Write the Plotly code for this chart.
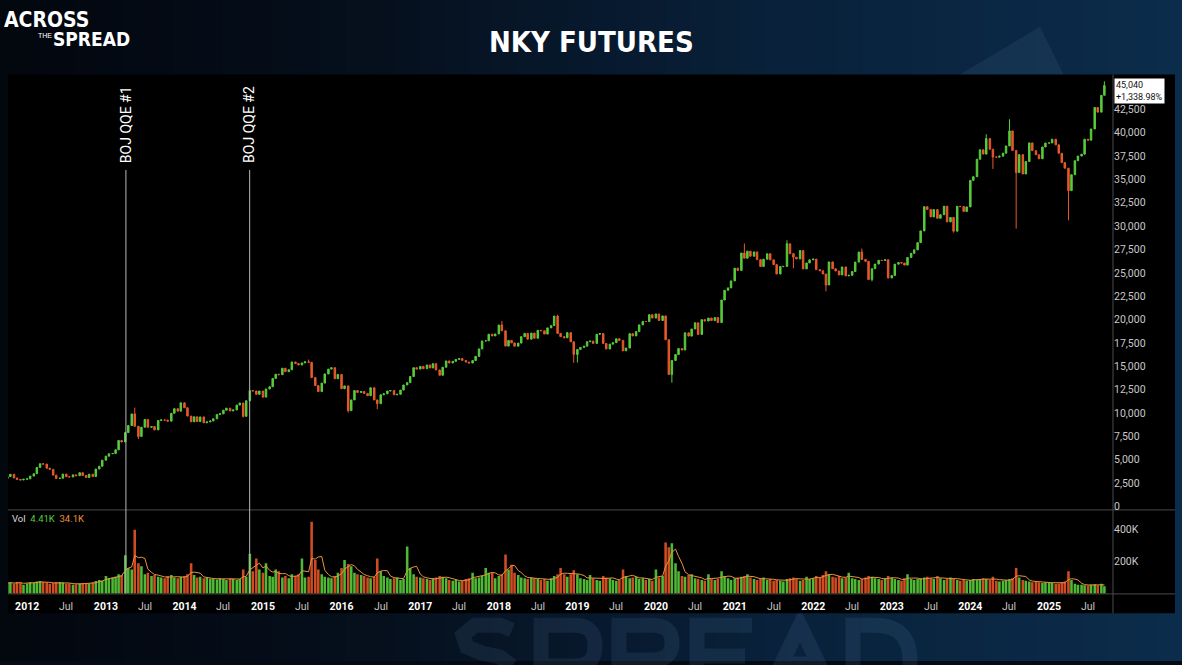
import numpy as np
import pandas as pd
import plotly.graph_objects as go

W, H = 1182, 665

# ---------------- data (semi-monthly candles) ----------------
dates = pd.date_range("2011-10-01", periods=336, freq="SMS")

first_open = 3000
close_2011 = [3200, 3440, 3050, 2880, 2830, 2910]
close_2012 = [2950, 3250, 3500, 4170, 4570, 4530, 4090, 3970, 3350, 2990, 3020, 3460,
              3180, 3150, 3380, 3290, 3610, 3320, 3100, 3450, 3200, 4000, 4300, 4950]
close_2013 = [5380, 5640, 5670, 6060, 7060, 6900, 7900, 8660, 9900, 8580, 7490, 8480,
              9310, 8470, 8550, 8190, 9200, 9260, 9240, 9130, 9970, 10460, 10200, 11090]
close_2014 = [10560, 9670, 9060, 9590, 9080, 9580, 8950, 9050, 9150, 9380, 9850, 9910,
              10300, 10520, 10220, 10330, 10850, 11070, 9640, 11310, 12390, 12360, 12000, 12350]
close_2015 = [11700, 12570, 12810, 13700, 14150, 14100, 14790, 14420, 14630, 15460, 15290, 15140,
              15360, 15480, 15420, 13790, 12930, 12290, 13200, 14180, 14700, 14850, 13670, 14130]
close_2016 = [12600, 12900, 10250, 11400, 12400, 12200, 12300, 12100, 11850, 12700, 11400, 11000,
              11950, 12050, 12350, 12400, 11950, 12000, 12450, 13000, 13250, 13900, 14850, 14700]
close_2017 = [14990, 14740, 15140, 14820, 15280, 14610, 14040, 14900, 15570, 15350, 15530, 15730,
              15820, 15630, 15450, 15350, 15610, 16060, 16860, 17710, 17730, 18430, 18250, 18460]
close_2018 = [19415, 18800, 17160, 17770, 17500, 17150, 17480, 18170, 18520, 17900, 18550, 18000,
              18850, 18800, 18450, 19110, 19350, 20370, 18520, 18170, 18050, 18600, 17620, 16265]
close_2019 = [16800, 17020, 17150, 17630, 17700, 17450, 18420, 18510, 17440, 16850, 17370, 17525,
              17940, 17770, 16655, 16950, 18490, 18250, 18710, 19430, 19800, 19790, 20520, 20160]
close_2020 = [20600, 19900, 20390, 17840, 14130, 15620, 16250, 16890, 16740, 18580, 18230, 18990,
              19650, 18410, 19990, 19840, 20160, 19890, 20210, 19680, 22090, 23130, 23390, 24140]
close_2021 = [25500, 25260, 27120, 26570, 27320, 26780, 27240, 26410, 25680, 26460, 27040, 26390,
              25880, 24880, 25670, 25690, 28110, 27050, 26670, 26490, 27380, 25420, 26060, 26390]
close_2022 = [26470, 25350, 25220, 24880, 23700, 26170, 25440, 25200, 24780, 25630, 24680, 24740,
              25140, 26150, 27220, 26440, 26230, 24290, 25440, 25940, 26340, 26320, 26400, 24450]
close_2023 = [24720, 25930, 26100, 26050, 25830, 26640, 27090, 27460, 28230, 29490, 32080, 31790,
              30990, 31770, 30840, 31220, 32130, 30460, 30920, 29460, 32120, 32090, 31570, 32060]
close_2024 = [34900, 35290, 37160, 38170, 37710, 39370, 38230, 37400, 37380, 37490, 37810, 38580,
              40190, 38100, 35730, 37650, 35580, 36920, 38910, 38080, 37640, 37210, 38470, 38890]
close_2025 = [38900, 39300, 38700, 37800, 36800, 36200, 33800, 35500, 37000, 37500, 37700, 39300,
              39200, 40400, 42700, 42200, 44000, 45040]

wick_high = {"2012-03-15": 4630, "2013-05-15": 10580, "2015-08-01": 15720, "2018-01-15": 19840,
             "2018-10-01": 20510, "2021-02-15": 28140, "2021-09-01": 28490, "2022-08-15": 27600,
             "2024-03-15": 39840, "2024-07-01": 41440, "2025-09-15": 45500}
wick_low = {"2013-06-01": 7210, "2014-10-01": 9520, "2015-01-01": 11650, "2016-02-01": 10050,
            "2016-06-15": 10400, "2018-12-15": 15370, "2019-01-01": 15400, "2020-03-15": 13240,
            "2021-10-01": 25480, "2022-03-01": 23030, "2022-10-01": 24090, "2023-10-15": 29300,
            "2024-04-15": 36120, "2024-08-01": 29730, "2025-04-01": 30620}

# volume in thousands
vol_2011 = [65, 70, 60, 72, 68, 55]
vol_2012 = [62, 70, 66, 75, 78, 72, 68, 60, 65, 70, 72, 68, 60, 62, 55, 58, 64, 66, 60, 62, 68, 78, 85, 80]
vol_2013 = [110, 95, 100, 105, 120, 115, 240, 160, 150, 400, 190, 170, 120, 130, 110, 115, 105, 100, 95, 110, 115, 100, 95, 105]
vol_2014 = [110, 120, 190, 115, 100, 105, 95, 98, 92, 90, 88, 95, 90, 85, 95, 92, 85, 90, 150, 105, 250, 140, 220, 150]
vol_2015 = [130, 190, 110, 105, 150, 140, 100, 110, 95, 120, 110, 120, 220, 100, 105, 450, 210, 150, 120, 105, 100, 95, 110, 130]
vol_2016 = [160, 210, 185, 170, 130, 120, 115, 110, 100, 95, 105, 220, 140, 110, 100, 90, 95, 100, 85, 90, 295, 160, 120, 105]
vol_2017 = [100, 95, 90, 85, 95, 100, 110, 105, 95, 85, 80, 85, 75, 80, 90, 95, 130, 95, 100, 110, 160, 130, 130, 95]
vol_2018 = [110, 120, 245, 150, 180, 130, 115, 100, 95, 90, 100, 95, 90, 85, 90, 80, 95, 110, 120, 160, 120, 105, 120, 145]
vol_2019 = [120, 95, 90, 85, 115, 95, 85, 80, 110, 100, 95, 85, 80, 85, 150, 110, 95, 100, 105, 90, 95, 85, 90, 80]
vol_2020 = [150, 100, 110, 320, 290, 315, 190, 140, 110, 105, 115, 120, 95, 90, 85, 80, 120, 90, 85, 90, 140, 110, 95, 85]
vol_2021 = [95, 100, 105, 110, 120, 100, 90, 85, 95, 100, 85, 90, 80, 85, 80, 75, 90, 95, 100, 90, 80, 85, 105, 90]
vol_2022 = [95, 110, 100, 115, 140, 120, 105, 100, 110, 95, 100, 130, 95, 90, 85, 90, 100, 110, 105, 95, 90, 85, 95, 110]
vol_2023 = [100, 90, 85, 80, 95, 120, 90, 85, 90, 95, 100, 105, 95, 90, 110, 95, 85, 90, 100, 95, 85, 80, 85, 80]
vol_2024 = [85, 90, 85, 90, 95, 90, 85, 105, 80, 75, 80, 85, 90, 95, 160, 100, 85, 80, 75, 70, 75, 70, 65, 70]
vol_2025 = [70, 65, 60, 62, 70, 75, 140, 85, 60, 55, 55, 52, 50, 55, 58, 52, 60, 45]

events = ["2013-04-04", "2014-10-31"]
event_labels = ["BOJ QQE #1", "BOJ QQE #2"]

price_ticks = list(range(0, 42501, 2500))
vol_ticks = [200000, 400000]
vol_tick_text = ["200K", "400K"]
years = list(range(2012, 2026))

last_label = "45,040<br>+1,338.98%"
vol_legend = ["Vol", "4.41K", "34.1K"]

# ---------------- assemble ----------------
closes = (close_2011 + close_2012 + close_2013 + close_2014 + close_2015 + close_2016 + close_2017 +
          close_2018 + close_2019 + close_2020 + close_2021 + close_2022 + close_2023 + close_2024 + close_2025)
vols_k = (vol_2011 + vol_2012 + vol_2013 + vol_2014 + vol_2015 + vol_2016 + vol_2017 +
          vol_2018 + vol_2019 + vol_2020 + vol_2021 + vol_2022 + vol_2023 + vol_2024 + vol_2025)
assert len(closes) == len(dates) == len(vols_k)

keys = [d.strftime("%Y-%m-%d") for d in dates]
opens = [first_open] + closes[:-1]
highs = [max(o, c, wick_high.get(k, 0)) for o, c, k in zip(opens, closes, keys)]
lows = [min(o, c, wick_low.get(k, 1e9)) for o, c, k in zip(opens, closes, keys)]
volume = [v * 1000 for v in vols_k]
vol_ma = pd.Series(volume).rolling(4, min_periods=1).mean()

GREEN = "#58cc3c"
RED = "#e8592a"
ORANGE = "#e8953c"
VGREEN = "rgba(88,205,60,0.9)"
VRED = "rgba(232,84,38,0.9)"
bar_colors = [VGREEN if c >= o else VRED for o, c in zip(opens, closes)]


def px(x):
    return x / W


def py(y):
    return 1 - y / H


def ppath(cmds):
    """Build an SVG path in paper coordinates from commands given in pixel coordinates."""
    out = []
    for cmd in cmds:
        op, nums = cmd[0], cmd[1:]
        pts = []
        for i in range(0, len(nums), 2):
            pts.append(f"{px(nums[i]):.5f},{py(nums[i + 1]):.5f}")
        out.append(op + " " + " ".join(pts))
    return " ".join(out)


fig = go.Figure()
fig.add_trace(go.Candlestick(
    x=dates, open=opens, high=highs, low=lows, close=closes,
    increasing=dict(line=dict(color=GREEN, width=1), fillcolor=GREEN),
    decreasing=dict(line=dict(color=RED, width=1), fillcolor=RED),
    whiskerwidth=0, xaxis="x", yaxis="y", showlegend=False, hoverinfo="skip"))
fig.add_trace(go.Bar(
    x=dates, y=volume, marker=dict(color=bar_colors, line=dict(width=0)),
    xaxis="x2", yaxis="y2", showlegend=False, hoverinfo="skip"))
fig.add_trace(go.Scatter(
    x=dates, y=vol_ma, mode="lines", line=dict(color=ORANGE, width=1),
    xaxis="x2", yaxis="y2", showlegend=False, hoverinfo="skip"))

# ---------------- background shapes ----------------
shapes = []
stops_x = [0, 0.3, 0.65, 1.0]
stops_c = [(3, 7, 14), (6, 15, 28), (9, 33, 58), (12, 45, 76)]
n = 48
for i in range(n):
    t = (i + 0.5) / n
    c = [int(np.interp(t, stops_x, [s[k] for s in stops_c])) for k in range(3)]
    shapes.append(dict(type="rect", xref="paper", yref="paper", x0=i / n, x1=(i + 1) / n + 0.001,
                       y0=0, y1=1, fillcolor=f"rgb({c[0]},{c[1]},{c[2]})", line_width=0, layer="below"))
# faint triangle top right
shapes.append(dict(type="path", xref="paper", yref="paper",
                   path=f"M {px(958)},{py(76)} L {px(1040)},{py(27)} L {px(1064)},{py(76)} Z",
                   fillcolor="rgba(120,160,200,0.10)", line_width=0, layer="below"))
# faint background logo strokes peeking out under the chart panel
WM = dict(color="rgba(130,175,225,0.10)", width=15)
logo_strokes = [
    [("M", 512, 634), ("L", 500, 629), ("L", 475, 629), ("L", 463, 639), ("L", 467, 651),
     ("L", 482, 657), ("L", 500, 661), ("L", 512, 670)],
    [("M", 541, 690), ("L", 541, 629), ("L", 575, 629), ("Q", 595, 629, 595, 650),
     ("Q", 595, 670, 575, 670), ("L", 541, 670)],
    [("M", 619, 690), ("L", 619, 629), ("L", 652, 629), ("Q", 672, 629, 672, 647),
     ("Q", 672, 664, 652, 664), ("L", 619, 664), ("M", 650, 664), ("L", 674, 692)],
    [("M", 752, 629), ("L", 697, 629), ("L", 697, 692), ("M", 697, 660), ("L", 745, 660)],
    [("M", 770, 692), ("L", 800, 629), ("L", 830, 692), ("M", 782, 668), ("L", 818, 668)],
    [("M", 853, 692), ("L", 853, 629), ("L", 875, 629), ("Q", 910, 629, 910, 665),
     ("Q", 910, 700, 875, 700)],
]
for stroke in logo_strokes:
    shapes.append(dict(type="path", xref="paper", yref="paper", path=ppath(stroke),
                       line=WM, fillcolor="rgba(0,0,0,0)", layer="below"))
# black chart panel
shapes.append(dict(type="rect", xref="paper", yref="paper", x0=px(8), x1=px(1175),
                   y0=py(617), y1=py(75), fillcolor="#000000", line_width=0, layer="below"))
SEP = "#4a4a4a"
shapes.append(dict(type="line", xref="paper", yref="paper", x0=px(8), x1=px(1175),
                   y0=py(513), y1=py(513), line=dict(color=SEP, width=1), layer="below"))
shapes.append(dict(type="line", xref="paper", yref="paper", x0=px(8), x1=px(1175),
                   y0=py(597.5), y1=py(597.5), line=dict(color=SEP, width=1), layer="below"))
shapes.append(dict(type="line", xref="paper", yref="paper", x0=px(1113), x1=px(1113),
                   y0=py(617), y1=py(75), line=dict(color=SEP, width=1), layer="below"))
# event lines
for d in events:
    shapes.append(dict(type="line", xref="x", yref="paper", x0=d, x1=d, y0=py(597), y1=py(171),
                       line=dict(color="#b8b8b8", width=1), layer="above"))

# ---------------- annotations ----------------
ann = []
for d, lab in zip(events, event_labels):
    ann.append(dict(xref="x", yref="paper", x=d, y=py(125), text=lab, textangle=-90, showarrow=False,
                    font=dict(family="Roboto, Open Sans, sans-serif", size=14, color="#ffffff"),
                    xanchor="center", yanchor="middle"))
ann.append(dict(xref="paper", yref="paper", x=px(591), y=py(42), text="NKY FUTURES", showarrow=False,
                font=dict(family="DejaVu Sans Condensed, sans-serif", size=29, color="#ffffff", weight="bold"),
                xanchor="center", yanchor="middle"))
# logo
ann.append(dict(xref="paper", yref="paper", x=px(2), y=py(20), text="ACROSS", showarrow=False,
                font=dict(family="DejaVu Sans Condensed, sans-serif", size=21, color="#ffffff", weight="bold"),
                xanchor="left", yanchor="middle"))
ann.append(dict(xref="paper", yref="paper", x=px(36), y=py(36), text="THE", showarrow=False,
                font=dict(family="Liberation Sans, sans-serif", size=7, color="#ffffff"),
                xanchor="left", yanchor="middle"))
ann.append(dict(xref="paper", yref="paper", x=px(51), y=py(39), text="SPREAD", showarrow=False,
                font=dict(family="DejaVu Sans Condensed, sans-serif", size=19, color="#ffffff", weight="bold"),
                xanchor="left", yanchor="middle"))
# last price label
ann.append(dict(xref="paper", yref="paper", x=px(1114), y=py(78), text=last_label, showarrow=False,
                font=dict(family="Roboto, sans-serif", size=9, color="#111111"), align="left",
                bgcolor="#ffffff", borderpad=1, xanchor="left", yanchor="top"))
# volume legend
ann.append(dict(xref="paper", yref="paper", x=px(10), y=py(522),
                text=(f"<span style='color:#dddddd'>{vol_legend[0]}</span>  "
                      f"<span style='color:{GREEN}'>{vol_legend[1]}</span>  "
                      f"<span style='color:{ORANGE}'>{vol_legend[2]}</span>"),
                showarrow=False, font=dict(family="Roboto, sans-serif", size=9.5),
                xanchor="left", yanchor="middle"))
# mid-year "Jul" labels (regular, grey) between the bold year ticks
for y in years:
    ann.append(dict(xref="x", yref="paper", x=f"{y}-07-01", y=py(610), text="Jul", showarrow=False,
                    font=dict(family="Roboto, sans-serif", size=10.5, color="#c4c4c4"),
                    xanchor="center", yanchor="middle"))

year_vals = [f"{y}-01-01" for y in years]
year_text = [str(y) for y in years]

XDOM = [px(8), px(1113)]
XRANGE = ["2011-10-04", "2025-10-25"]
AXFONT = dict(family="Roboto, sans-serif", size=10.5, color="#c8c8c8")

fig.update_layout(
    width=W, height=H, autosize=False,
    margin=dict(l=0, r=0, t=0, b=0),
    paper_bgcolor="#050b16", plot_bgcolor="rgba(0,0,0,0)",
    shapes=shapes, annotations=ann, bargap=0.15, showlegend=False,
    xaxis=dict(domain=XDOM, range=XRANGE, anchor="y", showticklabels=False, showgrid=False,
               zeroline=False, showline=False, rangeslider=dict(visible=False), type="date"),
    xaxis2=dict(domain=XDOM, range=XRANGE, matches="x", anchor="y2", showgrid=False, zeroline=False,
                showline=False, ticks="", tickvals=year_vals, ticktext=year_text, ticklabelstandoff=5,
                tickfont=dict(family="Roboto, sans-serif", size=10.5, color="#ffffff", weight="bold"),
                type="date"),
    yaxis=dict(domain=[py(512), py(75)], range=[-266, 46223], anchor="x", side="right",
               tickvals=price_ticks, tickformat=",d", showgrid=False, zeroline=False, showline=False,
               ticks="", tickfont=AXFONT),
    yaxis2=dict(domain=[py(597), py(514)], range=[0, 518750], anchor="x2", side="right",
                tickvals=vol_ticks, ticktext=vol_tick_text, showgrid=False, zeroline=False,
                showline=False, ticks="", tickfont=AXFONT),
)

fig.write_html(
    "out.html",
    config={"displayModeBar": False, "responsive": False},
    post_script=(
        "var h=document.documentElement,b=document.body;"
        "h.style.margin='0';h.style.padding='0';h.style.height='665px';h.style.overflow='hidden';"
        "b.style.margin='0';b.style.padding='0';b.style.height='665px';b.style.overflow='hidden';"
    ),
)
